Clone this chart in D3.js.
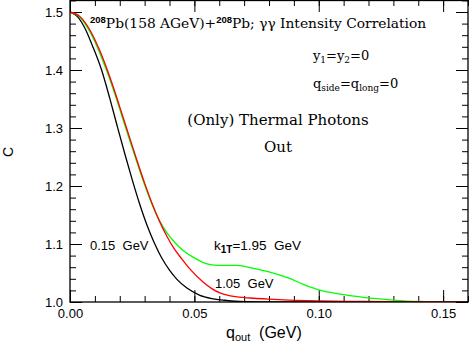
<!DOCTYPE html>
<html>
<head>
<meta charset="utf-8">
<script src="https://cdn.jsdelivr.net/npm/d3@7"></script>
<style>
body { margin: 0; background: #fff; }
text { fill: #000; }
</style>
</head>
<body>
<script>
// values
// k1T = 0.15 GeV (black)
var q015 = [0, 0.003, 0.006, 0.009, 0.0127, 0.016, 0.019, 0.022, 0.025, 0.028, 0.031, 0.034, 0.037, 0.040, 0.043, 0.047, 0.052, 0.057, 0.062, 0.068, 0.075, 0.16];
var c015 = [1.500, 1.492, 1.472, 1.442, 1.400, 1.351, 1.303, 1.256, 1.211, 1.169, 1.132, 1.101, 1.075, 1.055, 1.039, 1.024, 1.012, 1.006, 1.003, 1.001, 1.0003, 1.000];

// k1T = 1.05 GeV (red)
var q105 = [0, 0.004, 0.008, 0.012, 0.015, 0.018, 0.021, 0.024, 0.027, 0.030, 0.033, 0.036, 0.039, 0.042, 0.045, 0.048, 0.0536, 0.057, 0.060, 0.064, 0.067, 0.074, 0.080, 0.088, 0.100, 0.115, 0.130, 0.160];
var c105 = [1.500, 1.492, 1.469, 1.433, 1.400, 1.363, 1.323, 1.283, 1.243, 1.205, 1.170, 1.139, 1.113, 1.091, 1.074, 1.058, 1.034, 1.023, 1.016, 1.011, 1.009, 1.0065, 1.005, 1.0034, 1.002, 1.001, 1.0005, 1.000];

// k1T = 1.95 GeV (green)
var q195 = [0, 0.004, 0.008, 0.012, 0.015, 0.018, 0.021, 0.024, 0.027, 0.030, 0.033, 0.036, 0.039, 0.042, 0.0455, 0.050, 0.0536, 0.057, 0.062, 0.067, 0.0737, 0.080, 0.088, 0.094, 0.100, 0.108, 0.118, 0.130, 0.140, 0.150, 0.160];
var c195 = [1.500, 1.491, 1.466, 1.429, 1.396, 1.359, 1.319, 1.279, 1.240, 1.202, 1.168, 1.140, 1.119, 1.103, 1.089, 1.076, 1.068, 1.064, 1.063, 1.063, 1.058, 1.052, 1.041, 1.030, 1.021, 1.014, 1.008, 1.0034, 1.001, 1.0003, 1.000];

// tick labels
var xMajor = [0, 0.05, 0.10, 0.15];
var xLabels = ["0.00", "0.05", "0.10", "0.15"];
var yMajor = [1.0, 1.1, 1.2, 1.3, 1.4, 1.5];
var yLabels = ["1.0", "1.1", "1.2", "1.3", "1.4", "1.5"];

var dim = {
  w : 469,
  h : 343,
  left : 70,
  right : 468,
  top : 0.4,
  bottom : 302
}

var svg = d3.select("body")
            .append("svg")
            .attr("width", dim.w)
            .attr("height", dim.h);

var xScale = d3.scaleLinear().domain([0, 0.16]).range([dim.left, dim.right]);
var yScale = d3.scaleLinear().domain([1.0, 1.52]).range([dim.bottom, dim.top]);

var sans = "'Liberation Sans', Arial, sans-serif";
var serif = "'DejaVu Serif', serif";

// minor tick positions
var xMinor = d3.range(0, 0.1601, 0.01);
var yMinor = d3.range(1.0, 1.521, 0.02);

function styleAxis(g) {
  g.select(".domain").remove();
  g.selectAll("line").attr("stroke", "#000").attr("stroke-width", 1);
  g.selectAll("text").style("font-family", sans).style("font-size", "13px").attr("fill", "#000");
}

// major ticks with labels
svg.append("g")
   .attr("transform", "translate(0," + dim.bottom + ")")
   .call(d3.axisBottom(xScale).tickValues(xMajor).tickFormat(function(d, i) { return xLabels[i]; })
         .tickSizeInner(-12).tickSizeOuter(0).tickPadding(7))
   .call(styleAxis);

svg.append("g")
   .attr("transform", "translate(" + dim.left + ",0)")
   .call(d3.axisLeft(yScale).tickValues(yMajor).tickFormat(function(d, i) { return yLabels[i]; })
         .tickSizeInner(-12).tickSizeOuter(0).tickPadding(7))
   .call(styleAxis);

// mirrored major ticks
svg.append("g")
   .call(d3.axisTop(xScale).tickValues(xMajor).tickFormat("").tickSizeInner(-12).tickSizeOuter(0))
   .call(styleAxis);
svg.append("g")
   .attr("transform", "translate(" + dim.right + ",0)")
   .call(d3.axisRight(yScale).tickValues(yMajor).tickFormat("").tickSizeInner(-12).tickSizeOuter(0))
   .call(styleAxis);

// minor ticks on all sides
svg.append("g").attr("transform", "translate(0," + dim.bottom + ")")
   .call(d3.axisBottom(xScale).tickValues(xMinor).tickFormat("").tickSizeInner(-6).tickSizeOuter(0))
   .call(styleAxis);
svg.append("g")
   .call(d3.axisTop(xScale).tickValues(xMinor).tickFormat("").tickSizeInner(-6).tickSizeOuter(0))
   .call(styleAxis);
svg.append("g").attr("transform", "translate(" + dim.left + ",0)")
   .call(d3.axisLeft(yScale).tickValues(yMinor).tickFormat("").tickSizeInner(-6).tickSizeOuter(0))
   .call(styleAxis);
svg.append("g").attr("transform", "translate(" + dim.right + ",0)")
   .call(d3.axisRight(yScale).tickValues(yMinor).tickFormat("").tickSizeInner(-6).tickSizeOuter(0))
   .call(styleAxis);

// clip for the curves
svg.append("clipPath").attr("id", "plotClip")
   .append("rect")
   .attr("x", dim.left).attr("y", 0)
   .attr("width", dim.right - dim.left).attr("height", dim.bottom);

var line = d3.line()
             .x(function(d) { return xScale(d[0]); })
             .y(function(d) { return yScale(d[1]); })
             .curve(d3.curveMonotoneX);

// draw order: black, green, red on top
var series = [
  { q : q015, c : c015, color : "#000000" },
  { q : q195, c : c195, color : "#00ff00" },
  { q : q105, c : c105, color : "#ff0000" }
];

svg.append("g")
   .attr("clip-path", "url(#plotClip)")
   .selectAll("path")
   .data(series)
   .enter()
   .append("path")
   .attr("d", function(s) { return line(d3.zip(s.q, s.c)); })
   .attr("fill", "none")
   .attr("stroke", function(s) { return s.color; })
   .attr("stroke-width", 1.3);

// frame
svg.append("rect")
   .attr("x", dim.left).attr("y", 0.5)
   .attr("width", dim.right - dim.left).attr("height", dim.bottom - 0.5)
   .attr("fill", "none")
   .attr("stroke", "#000")
   .attr("stroke-width", 1.3);

// axis titles
svg.append("text")
   .attr("transform", "translate(13,152) rotate(-90)")
   .attr("text-anchor", "middle")
   .style("font-family", sans)
   .style("font-size", "14px")
   .text("C");

var xt = svg.append("text")
            .attr("x", 226).attr("y", 338)
            .attr("xml:space", "preserve")
            .style("font-family", sans)
            .style("font-size", "16px");
xt.append("tspan").text("q");
xt.append("tspan").attr("dy", 3).style("font-size", "11px").text("out");
xt.append("tspan").attr("dy", -3).text("  (GeV)");

// annotations, serif block
var title = svg.append("text")
               .attr("x", 90).attr("y", 28)
               .style("font-family", serif)
               .style("font-size", "13.8px");
title.append("tspan").attr("dy", -5).style("font-size", "9.5px").style("font-family", sans).style("font-weight", "bold").text("208");
title.append("tspan").attr("dy", 5).text("Pb(158 AGeV)+");
title.append("tspan").attr("dy", -5).style("font-size", "9.5px").style("font-family", sans).style("font-weight", "bold").text("208");
title.append("tspan").attr("dy", 5).text("Pb; \u03b3\u03b3 Intensity Correlation");

var yy = svg.append("text")
            .attr("x", 313).attr("y", 60)
            .style("font-family", serif)
            .style("font-size", "13px");
yy.append("tspan").text("y");
yy.append("tspan").attr("dy", 3).style("font-size", "9px").text("1");
yy.append("tspan").attr("dy", -3).text("=y");
yy.append("tspan").attr("dy", 3).style("font-size", "9px").text("2");
yy.append("tspan").attr("dy", -3).text("=0");

var qq = svg.append("text")
            .attr("x", 313).attr("y", 88)
            .style("font-family", serif)
            .style("font-size", "13px");
qq.append("tspan").text("q");
qq.append("tspan").attr("dy", 3).style("font-size", "9px").text("side");
qq.append("tspan").attr("dy", -3).text("=q");
qq.append("tspan").attr("dy", 3).style("font-size", "9px").text("long");
qq.append("tspan").attr("dy", -3).text("=0");

svg.append("text")
   .attr("x", 278).attr("y", 125)
   .attr("text-anchor", "middle")
   .style("font-family", serif)
   .style("font-size", "15px")
   .text("(Only) Thermal Photons");

svg.append("text")
   .attr("x", 278).attr("y", 152)
   .attr("text-anchor", "middle")
   .style("font-family", serif)
   .style("font-size", "15px")
   .text("Out");

// curve labels
svg.append("text")
   .attr("x", 90).attr("y", 250)
   .attr("xml:space", "preserve")
   .style("font-family", sans)
   .style("font-size", "13px")
   .text("0.15  GeV");

var kt = svg.append("text")
            .attr("x", 214).attr("y", 250)
            .attr("xml:space", "preserve")
            .style("font-family", sans)
            .style("font-size", "13.5px");
kt.append("tspan").text("k");
kt.append("tspan").attr("dy", 3).style("font-size", "10px").style("font-weight", "bold").text("1T");
kt.append("tspan").attr("dy", -3).text("=1.95  GeV");

svg.append("text")
   .attr("x", 215).attr("y", 288)
   .attr("xml:space", "preserve")
   .style("font-family", sans)
   .style("font-size", "13px")
   .text("1.05  GeV");
</script>
</body>
</html>
